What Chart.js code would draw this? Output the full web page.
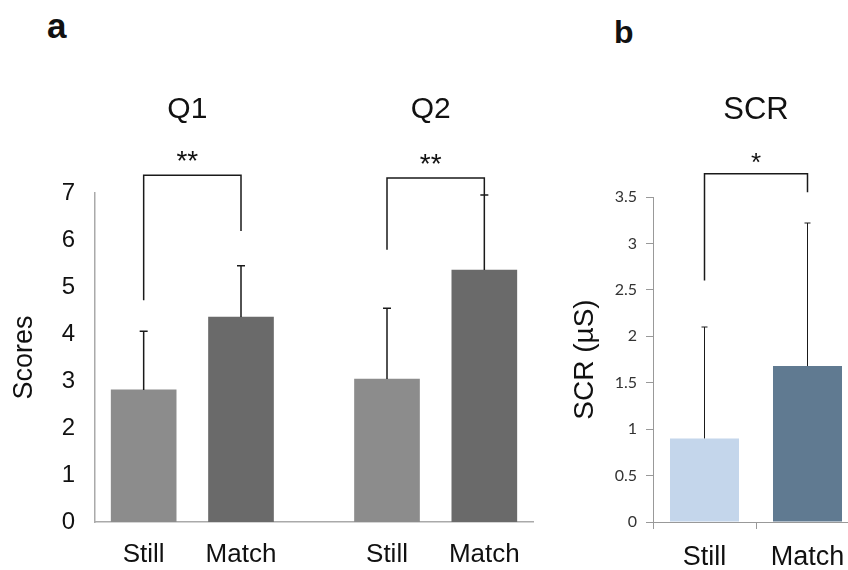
<!DOCTYPE html>
<html>
<head>
<meta charset="utf-8">
<script src="https://cdn.jsdelivr.net/npm/chart.js@4.4.1/dist/chart.umd.min.js"></script>
<style>
  html, body { margin: 0; padding: 0; background: #fff; overflow: hidden; width: 848px; height: 570px; }
  .panel { position: absolute; top: 0; }
  .tag { position: absolute; font-family: 'Liberation Sans', Arial, sans-serif; font-weight: bold; color: #111; line-height: 1; }
</style>
</head>
<body>
<div class="tag" style="left:47px; top:8px; font-size:35px;">a</div>
<div class="tag" style="left:614px; top:16px; font-size:32px;">b</div>
<div class="panel" style="left:0; width:560px; height:570px;"><canvas id="chartA" width="560" height="570"></canvas></div>
<div class="panel" style="left:560px; width:300px; height:570px;"><canvas id="chartB" width="300" height="570"></canvas></div>
<script>
const groups = ['Q1', 'Q2'];
const conditions = ['Still', 'Match'];
const q1Means = [2.81, 4.36];
const q1Errors = [1.25, 1.09];
const q2Means = [3.04, 5.36];
const q2Errors = [1.51, 1.60];
const groupStars = ['**', '**'];
const scoreTicks = [0, 1, 2, 3, 4, 5, 6, 7];

const scrMeans = [0.90, 1.68];
const scrErrors = [1.20, 1.54];
const scrStars = '*';
const scrTicks = [0, 0.5, 1, 1.5, 2, 2.5, 3, 3.5];

const FONT = "'Liberation Sans', Arial, sans-serif";
Chart.defaults.font.family = FONT;
Chart.defaults.color = '#111';

// panel a was two charts glued side by side -> 10 slots, bars on 1,3 and 6,8
const slotCount = 10;
const groupSlots = [[1, 3], [6, 8]];
const greys = ['#8c8c8c', '#6a6a6a'];

const slotLabels = Array(slotCount).fill('');
const slotValues = Array(slotCount).fill(null);
const slotErrors = Array(slotCount).fill(null);
const slotColors = Array(slotCount).fill('transparent');
const groupMeans = [q1Means, q2Means];
const groupErrors = [q1Errors, q2Errors];
groupSlots.forEach((slots, g) => {
  slots.forEach((s, c) => {
    slotLabels[s] = conditions[c];
    slotValues[s] = groupMeans[g][c];
    slotErrors[s] = groupErrors[g][c];
    slotColors[s] = greys[c];
  });
});

// error bars (upper half), significance brackets, stars and group titles
const extras = {
  id: 'extras',
  afterDatasetsDraw(chart, args, opts) {
    const ctx = chart.ctx;
    const y = chart.scales.y;
    const ds = chart.data.datasets[0];
    const bars = chart.getDatasetMeta(0).data;
    ctx.save();
    ctx.strokeStyle = '#1a1a1a';
    ctx.lineWidth = opts.errWidth;
    ds.errors.forEach((e, i) => {
      if (e == null) return;
      const x = bars[i].x;
      const top = y.getPixelForValue(ds.data[i] + e);
      ctx.beginPath();
      ctx.moveTo(x, bars[i].y);
      ctx.lineTo(x, top);
      ctx.moveTo(x - opts.cap, top);
      ctx.lineTo(x + opts.cap, top);
      ctx.stroke();
    });
    opts.brackets.forEach(b => {
      const x1 = bars[b.from].x, x2 = bars[b.to].x;
      const yt = y.getPixelForValue(b.top);
      ctx.lineWidth = opts.bracketWidth;
      ctx.beginPath();
      ctx.moveTo(x1, y.getPixelForValue(b.leftEnd));
      ctx.lineTo(x1, yt);
      ctx.lineTo(x2, yt);
      ctx.lineTo(x2, y.getPixelForValue(b.rightEnd));
      ctx.stroke();
      const mid = (x1 + x2) / 2 + opts.textDx;
      ctx.fillStyle = '#111';
      ctx.textAlign = 'center';
      ctx.textBaseline = 'alphabetic';
      ctx.font = opts.starFont;
      ctx.fillText(b.stars, mid, yt - opts.starGap);
      ctx.font = opts.titleFont;
      ctx.fillText(b.title, mid, y.getPixelForValue(b.titleAt));
    });
    ctx.restore();
  }
};

new Chart(document.getElementById('chartA'), {
  type: 'bar',
  data: {
    labels: slotLabels,
    datasets: [{
      data: slotValues,
      errors: slotErrors,
      backgroundColor: slotColors,
      barThickness: 65,
      borderWidth: 0
    }]
  },
  options: {
    responsive: false,
    animation: false,
    layout: { padding: { top: 193, right: 27, left: 0, bottom: 0 } },
    scales: {
      x: {
        offset: false,
        grid: { display: false, drawTicks: false },
        border: { color: '#aaa', width: 1.5 },
        ticks: { autoSkip: false, maxRotation: 0, padding: 17, color: '#111', font: { size: 26 } },
        afterFit: s => { s.height = 48; }
      },
      y: {
        min: 0,
        max: 7,
        afterBuildTicks: s => { s.ticks = scoreTicks.map(v => ({ value: v })); },
        grid: { display: false, drawTicks: false },
        border: { color: '#aaa', width: 1.5 },
        ticks: { padding: 20, color: '#111', font: { size: 24 } },
        title: { display: true, text: 'Scores', color: '#111', font: { size: 27 }, padding: { top: 8, bottom: 0 } },
        afterFit: s => { s.width = 95; }
      }
    },
    plugins: {
      legend: { display: false },
      tooltip: { enabled: false },
      extras: {
        errWidth: 1.5,
        cap: 4,
        bracketWidth: 1.5,
        textDx: -5,
        starGap: 5,
        starFont: '28px ' + FONT,
        titleFont: '30px ' + FONT,
        brackets: [
          { from: groupSlots[0][0], to: groupSlots[0][1], top: 7.38, leftEnd: 4.72, rightEnd: 6.19, stars: groupStars[0], title: groups[0], titleAt: 8.6 },
          { from: groupSlots[1][0], to: groupSlots[1][1], top: 7.32, leftEnd: 5.79, rightEnd: 6.96, stars: groupStars[1], title: groups[1], titleAt: 8.6 }
        ]
      }
    }
  },
  plugins: [extras]
});

new Chart(document.getElementById('chartB'), {
  type: 'bar',
  data: {
    labels: conditions,
    datasets: [{
      data: scrMeans,
      errors: scrErrors,
      backgroundColor: ['#c4d6eb', '#607a91'],
      categoryPercentage: 1.0,
      barPercentage: 0.67,
      borderWidth: 0
    }]
  },
  options: {
    responsive: false,
    animation: false,
    layout: { padding: { top: 197, right: 1, left: 0, bottom: 0 } },
    scales: {
      x: {
        grid: { display: true, drawOnChartArea: false, tickLength: 7, color: '#999' },
        border: { color: '#999', width: 1 },
        ticks: { maxRotation: 0, padding: 12, color: '#111', font: { size: 27 } },
        afterFit: s => { s.height = 48; }
      },
      y: {
        min: 0,
        max: 3.5,
        afterBuildTicks: s => { s.ticks = scrTicks.map(v => ({ value: v })); },
        grid: { display: true, drawOnChartArea: false, tickLength: 7, color: '#999' },
        border: { color: '#999', width: 1 },
        ticks: { padding: 9, color: '#333', font: { family: "Lato, 'Open Sans', sans-serif", size: 16 }, callback: v => String(v) },
        title: { display: true, text: 'SCR (µS)', color: '#111', font: { size: 28 }, padding: { top: 8, bottom: 0 } },
        afterFit: s => { s.width = 93; }
      }
    },
    plugins: {
      legend: { display: false },
      tooltip: { enabled: false },
      extras: {
        errWidth: 1,
        cap: 3,
        bracketWidth: 1.5,
        textDx: 0,
        starGap: 3,
        starFont: '26px ' + FONT,
        titleFont: '31px ' + FONT,
        brackets: [
          { from: 0, to: 1, top: 3.75, leftEnd: 2.6, rightEnd: 3.55, stars: scrStars, title: 'SCR', titleAt: 4.34 }
        ]
      }
    }
  },
  plugins: [extras]
});
</script>
</body>
</html>
